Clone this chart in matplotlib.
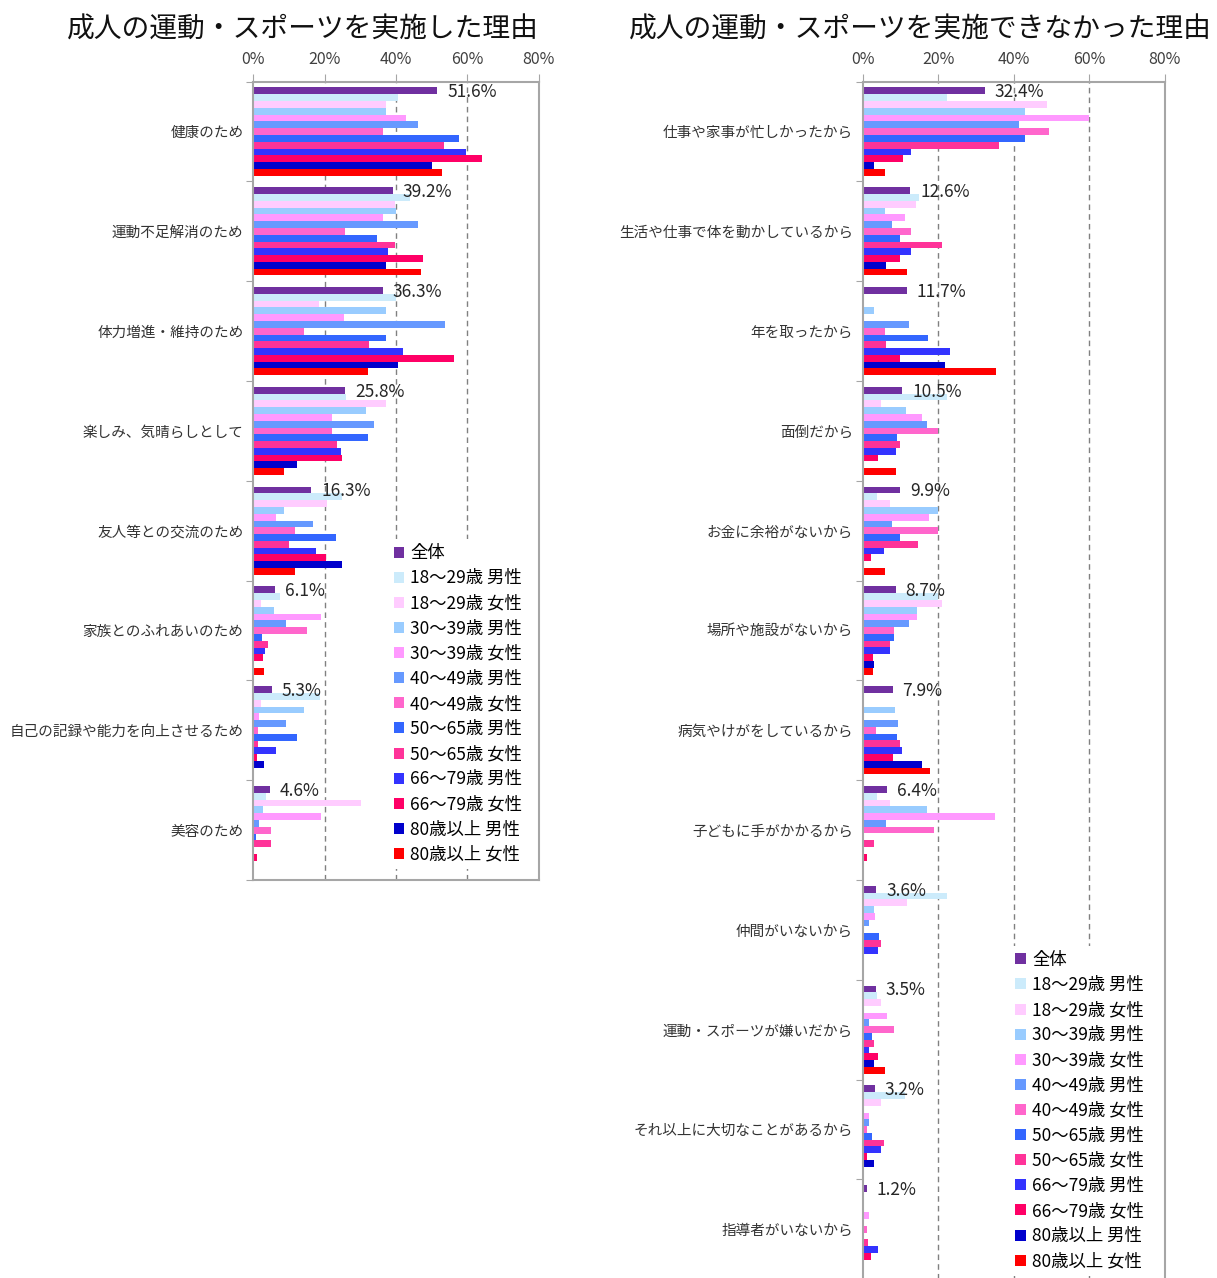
import matplotlib
matplotlib.use('Agg')
import matplotlib.pyplot as plt
import numpy as np

plt.rcParams['font.family'] = ['Noto Sans CJK JP', 'DejaVu Sans']

# 系列（全体＋年代・性別）
series_names = ['全体', '18～29歳 男性', '18～29歳 女性', '30～39歳 男性', '30～39歳 女性',
                '40～49歳 男性', '40～49歳 女性', '50～65歳 男性', '50～65歳 女性',
                '66～79歳 男性', '66～79歳 女性', '80歳以上 男性', '80歳以上 女性']
series_colors = ['#7030A0', '#CCEBFB', '#FFCCFF', '#99CCFF', '#FF99FF', '#6699FF', '#FF66CC',
                 '#3366FF', '#FF3399', '#3333FF', '#FF0066', '#0000CC', '#FF0000']

# 実施した理由
done_reasons = ['健康のため', '運動不足解消のため', '体力増進・維持のため', '楽しみ、気晴らしとして',
                '友人等との交流のため', '家族とのふれあいのため', '自己の記録や能力を向上させるため', '美容のため']
done_values = [
    [51.6, 40.6, 37.1, 37.1, 42.7, 46.1, 36.4, 57.7, 53.4, 59.5, 64.1, 50.0, 52.9],
    [39.2, 44.0, 39.7, 39.9, 36.4, 46.1, 25.8, 34.7, 39.6, 37.9, 47.6, 37.3, 46.9],
    [36.3, 40.0, 18.5, 37.1, 25.3, 53.7, 14.2, 37.1, 32.4, 42.0, 56.2, 40.7, 32.3],
    [25.8, 26.0, 37.1, 31.5, 22.2, 33.9, 22.2, 32.1, 23.6, 24.7, 25.0, 12.4, 8.7],
    [16.3, 25.0, 20.8, 8.5, 6.3, 16.8, 11.8, 23.2, 9.9, 17.5, 20.3, 25.0, 11.8],
    [6.1, 7.4, 2.3, 5.7, 19.1, 9.2, 15.2, 2.4, 4.2, 3.3, 2.8, 0.0, 3.1],
    [5.3, 18.7, 2.3, 14.2, 1.6, 9.2, 1.2, 12.4, 1.2, 6.4, 1.0, 3.1, 0.0],
    [4.6, 3.7, 30.1, 2.8, 19.1, 1.6, 4.9, 0.8, 4.9, 0.0, 1.1, 0.0, 0.0],
]
done_labels = ['51.6%', '39.2%', '36.3%', '25.8%', '16.3%', '6.1%', '5.3%', '4.6%']

# 実施できなかった理由
notdone_reasons = ['仕事や家事が忙しかったから', '生活や仕事で体を動かしているから', '年を取ったから', '面倒だから',
                   'お金に余裕がないから', '場所や施設がないから', '病気やけがをしているから', '子どもに手がかかるから',
                   '仲間がいないから', '運動・スポーツが嫌いだから', 'それ以上に大切なことがあるから', '指導者がいないから']
notdone_values = [
    [32.4, 22.3, 48.7, 42.9, 60.0, 41.4, 49.4, 42.9, 36.1, 12.7, 10.6, 3.0, 5.8],
    [12.6, 14.8, 14.0, 5.8, 11.2, 7.7, 12.9, 10.0, 20.9, 12.7, 9.8, 6.2, 11.8],
    [11.7, 0.0, 0.0, 2.9, 0.0, 12.3, 5.8, 17.3, 6.2, 23.1, 9.8, 21.8, 35.2],
    [10.5, 22.3, 4.8, 11.4, 15.8, 16.9, 20.0, 9.1, 9.8, 8.7, 4.0, 0.0, 8.9],
    [9.9, 3.7, 7.1, 20.0, 17.5, 7.7, 20.0, 10.0, 14.7, 5.7, 2.1, 0.0, 5.8],
    [8.7, 20.0, 21.1, 14.4, 14.4, 12.3, 8.3, 8.3, 7.1, 7.2, 2.8, 3.1, 2.8],
    [7.9, 0.0, 0.0, 8.6, 0.0, 9.4, 3.5, 9.1, 9.8, 10.4, 7.9, 15.6, 17.7],
    [6.4, 3.7, 7.1, 17.1, 35.0, 6.2, 19.0, 0.0, 2.9, 0.0, 1.0, 0.0, 0.0],
    [3.6, 22.3, 11.7, 2.9, 3.3, 1.7, 0.0, 4.2, 4.9, 4.0, 0.0, 0.0, 0.0],
    [3.5, 3.7, 4.8, 0.0, 6.5, 1.7, 8.4, 2.5, 2.9, 1.7, 4.0, 3.1, 5.8],
    [3.2, 11.2, 4.8, 0.0, 1.7, 1.7, 1.2, 2.5, 5.6, 4.8, 1.1, 3.1, 0.0],
    [1.2, 0.0, 0.0, 0.0, 1.7, 0.0, 1.2, 0.0, 1.5, 4.0, 2.1, 0.0, 0.0],
]
notdone_labels = ['32.4%', '12.6%', '11.7%', '10.5%', '9.9%', '8.7%', '7.9%', '6.4%',
                  '3.6%', '3.5%', '3.2%', '1.2%']

x_ticks = [0, 20, 40, 60, 80]
x_ticklabels = ['0%', '20%', '40%', '60%', '80%']

SPINE = '#A6A6A6'


def draw_panel(ax, reasons, values, labels, legend_anchor):
    values = np.array(values)
    n = len(reasons)
    h = 0.068
    for j in range(len(series_names)):
        y = np.arange(n) + 0.5 + (j - 6) * h
        ax.barh(y, values[:, j], height=h, color=series_colors[j],
                label=series_names[j], linewidth=0, zorder=2)
    # 全体の値ラベル
    for i in range(n):
        ax.annotate(labels[i], xy=(values[i, 0], i + 0.5 - 6 * h), xytext=(7, -1),
                    textcoords='offset points', ha='left', va='center',
                    fontsize=12.5, color='#262626', zorder=4)
    ax.set_xlim(0, 80)
    ax.set_ylim(n, 0)
    ax.xaxis.tick_top()
    ax.set_xticks(x_ticks)
    ax.set_xticklabels(x_ticklabels)
    ax.tick_params(axis='x', length=6, color=SPINE, labelsize=11.5,
                   labelcolor='#404040', pad=4)
    ax.set_yticks(np.arange(n + 1))
    ax.set_yticklabels([])
    ax.set_yticks(np.arange(n) + 0.5, minor=True)
    ax.set_yticklabels(reasons, minor=True)
    ax.tick_params(axis='y', which='major', length=5, color=SPINE)
    ax.tick_params(axis='y', which='minor', length=0, labelsize=10.5,
                   labelcolor='#333333', pad=7)
    for x in [20, 40, 60]:
        ax.axvline(x, ls=(0, (4, 3)), color='#808080', lw=1, zorder=1)
    for s in ax.spines.values():
        s.set_color(SPINE)
        s.set_linewidth(1.5)
    ax.legend(loc='upper left', bbox_to_anchor=legend_anchor,
              bbox_transform=ax.figure.transFigure, fontsize=12.5,
              handlelength=0.6, handleheight=0.6, handletextpad=0.35,
              labelspacing=0.41, borderpad=0.3, frameon=True, fancybox=False,
              edgecolor='none', facecolor='white', framealpha=1)


fig = plt.figure(figsize=(12.17, 12.78), dpi=100)
ax1 = fig.add_axes([0.2081, 0.3114, 0.2345, 0.6247])
ax2 = fig.add_axes([0.7089, -0.0009, 0.2481, 0.9370])

draw_panel(ax1, done_reasons, done_values, done_labels, (0.312, 0.5850))
draw_panel(ax2, notdone_reasons, notdone_values, notdone_labels, (0.823, 0.2668))

fig.text(0.249, 0.977, '成人の運動・スポーツを実施した理由', ha='center', va='center',
         fontsize=20, color='#111111')
fig.text(0.756, 0.977, '成人の運動・スポーツを実施できなかった理由', ha='center', va='center',
         fontsize=20, color='#111111')

fig.savefig('out.png', dpi=100)
